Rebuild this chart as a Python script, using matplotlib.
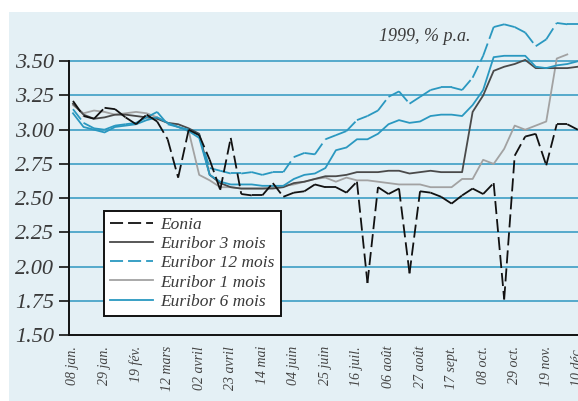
import numpy as np
import matplotlib
matplotlib.use("Agg")
import matplotlib.pyplot as plt
from matplotlib.lines import Line2D
from matplotlib.patches import Rectangle

plt.rcParams['font.family'] = ['Liberation Serif', 'DejaVu Serif']
plt.rcParams['lines.scale_dashes'] = False

# weekly observations, 1999 (week 0 = 08 jan.)
tick_labels = ['08 jan.', '29 jan.', '19 fév.', '12 mars', '02 avril', '23 avril',
               '14 mai', '04 juin', '25 juin', '16 juil.', '06 août', '27 août',
               '17 sept.', '08 oct.', '29 oct.', '19 nov.', '10 déc.']

eonia = [3.21, 3.10, 3.08, 3.16, 3.15, 3.09, 3.04, 3.11, 3.06, 2.93, 2.65, 3.00,
         2.96, 2.78, 2.56, 2.94, 2.53, 2.52, 2.52, 2.61, 2.51, 2.54, 2.55, 2.60,
         2.58, 2.58, 2.54, 2.62, 1.88, 2.58, 2.53, 2.57, 1.95, 2.55, 2.54, 2.51,
         2.46, 2.52, 2.57, 2.53, 2.61, 1.76, 2.81, 2.95, 2.97, 2.74, 3.04, 3.04,
         3.00]
euribor_3m = [3.19, 3.11, 3.08, 3.09, 3.11, 3.11, 3.10, 3.09, 3.08, 3.05, 3.04, 3.01,
              2.97, 2.67, 2.61, 2.58, 2.57, 2.57, 2.57, 2.57, 2.58, 2.61, 2.62, 2.64,
              2.66, 2.66, 2.67, 2.69, 2.69, 2.69, 2.70, 2.70, 2.68, 2.69, 2.70, 2.69,
              2.69, 2.69, 3.13, 3.25, 3.43, 3.46, 3.48, 3.51, 3.45, 3.45, 3.45, 3.45,
              3.46]
euribor_12m = [3.15, 3.05, 3.01, 3.00, 3.03, 3.04, 3.05, 3.09, 3.13, 3.04, 3.02, 3.00,
               2.96, 2.72, 2.70, 2.68, 2.68, 2.69, 2.67, 2.69, 2.69, 2.80, 2.83, 2.82,
               2.93, 2.96, 2.99, 3.07, 3.10, 3.14, 3.24, 3.28, 3.19, 3.24, 3.29, 3.31,
               3.31, 3.29, 3.38, 3.54, 3.75, 3.77, 3.75, 3.71, 3.61, 3.66, 3.78, 3.77,
               3.77]
euribor_1m = [3.18, 3.12, 3.14, 3.13, 3.11, 3.12, 3.13, 3.12, 3.09, 3.05, 3.02, 2.99,
              2.67, 2.63, 2.58, 2.58, 2.57, 2.57, 2.57, 2.58, 2.59, 2.60, 2.62, 2.64,
              2.65, 2.62, 2.65, 2.63, 2.63, 2.62, 2.61, 2.60, 2.60, 2.60, 2.58, 2.58,
              2.58, 2.64, 2.64, 2.78, 2.75, 2.86, 3.03, 3.00, 3.03, 3.06, 3.52, 3.55]
euribor_6m = [3.12, 3.02, 3.00, 2.98, 3.02, 3.03, 3.04, 3.07, 3.09, 3.05, 3.02, 2.99,
              2.94, 2.67, 2.62, 2.60, 2.60, 2.60, 2.59, 2.59, 2.59, 2.64, 2.67, 2.68,
              2.72, 2.85, 2.87, 2.93, 2.93, 2.97, 3.04, 3.07, 3.05, 3.06, 3.10, 3.11,
              3.11, 3.10, 3.18, 3.29, 3.53, 3.54, 3.54, 3.54, 3.46, 3.45, 3.47, 3.48,
              3.50]

BG = '#e4f0f5'
GRID = '#3d9ec4'
TEAL = '#2a98c0'
DASH = (0, (9.4, 3.6))


def plot_dashed(ax, y, color):
    # the dash pattern restarts at every vertex, like the original
    x = np.arange(len(y))
    for i in range(len(y) - 1):
        ax.plot(x[i:i + 2], y[i:i + 2], color=color, lw=1.3, ls=DASH, zorder=4)


fig = plt.figure(figsize=(5.78, 4.01), dpi=100)
fig.patch.set_facecolor('white')
fig.patches.append(Rectangle((9 / 578, 0), 1, 389 / 401, transform=fig.transFigure,
                             facecolor=BG, edgecolor='none', zorder=-10))

ax = fig.add_axes([69 / 578, 66 / 401, 509 / 578, 323 / 401])
ax.set_facecolor(BG)

for v in np.arange(1.75, 3.51, 0.25):
    ax.axhline(v, color=GRID, lw=1.2, zorder=1)

ax.plot(np.arange(len(euribor_1m)), euribor_1m, color='#a2a2a2', lw=1.3, zorder=3)
ax.plot(np.arange(len(euribor_3m)), euribor_3m, color='#4a4a4a', lw=1.3, zorder=3)
ax.plot(np.arange(len(euribor_6m)), euribor_6m, color=TEAL, lw=1.3, zorder=3)
plot_dashed(ax, euribor_12m, TEAL)
plot_dashed(ax, eonia, '#111111')

ax.set_xlim(-0.38, 48.02)
ax.set_ylim(1.50, 3.86)

ax.set_yticks(np.arange(1.50, 3.51, 0.25))
ax.set_yticklabels([f'{v:.2f}' for v in np.arange(1.50, 3.51, 0.25)],
                   fontsize=16, style='italic', color='#3a3a3a')
ax.set_xticks(np.arange(0, 49, 3))
ax.set_xticklabels(tick_labels, rotation=90, fontsize=10, style='italic',
                   color='#444444', va='top')
ax.tick_params(axis='y', length=7, width=1.3, pad=4, color='#222222')
ax.tick_params(axis='x', length=0, pad=8)

for s in ['top', 'right']:
    ax.spines[s].set_visible(False)
for s in ['left', 'bottom']:
    ax.spines[s].set_linewidth(1.4)
    ax.spines[s].set_color('#111111')
ax.spines['left'].set_bounds(1.50, 3.50)

ax.text(0.61, 0.925, '1999, % p.a.', transform=ax.transAxes, fontsize=13,
        style='italic', color='#3a3a3a', ha='left', va='center')

handles = [
    Line2D([], [], color='#111111', lw=1.3, ls=(0, (9.4, 3.6))),
    Line2D([], [], color='#4a4a4a', lw=1.3),
    Line2D([], [], color=TEAL, lw=1.3, ls=(0, (9.4, 3.6))),
    Line2D([], [], color='#a2a2a2', lw=1.3),
    Line2D([], [], color=TEAL, lw=1.3),
]
names = ['Eonia', 'Euribor 3 mois', 'Euribor 12 mois', 'Euribor 1 mois', 'Euribor 6 mois']
leg = ax.legend(handles, names, loc='upper left', bbox_to_anchor=(0.0688, 0.384),
                borderaxespad=0, frameon=True, fancybox=False, framealpha=1,
                edgecolor='#111111', facecolor='white', handlelength=2.5,
                handletextpad=0.4, labelspacing=0.17, borderpad=0.35,
                prop={'family': 'Liberation Serif', 'style': 'italic', 'size': 12.5})
leg.get_frame().set_linewidth(1.4)
for t in leg.get_texts():
    t.set_color('#3a3a3a')
leg.set_zorder(6)

fig.savefig('out.png', dpi=100, facecolor=fig.get_facecolor())
